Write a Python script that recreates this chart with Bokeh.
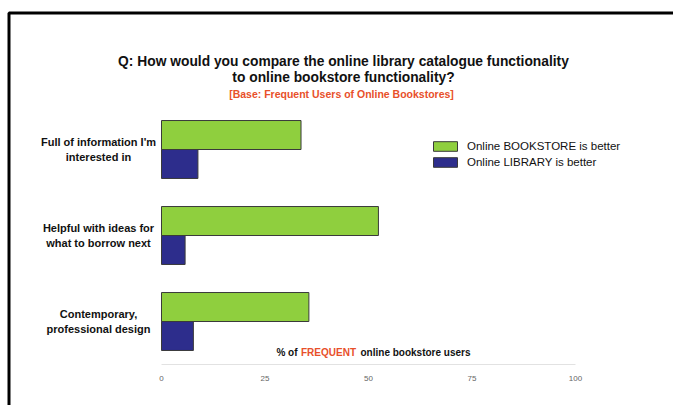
from bokeh.plotting import figure
from bokeh.models import ColumnDataSource, Label, Legend, LegendItem, BoxAnnotation, FixedTicker, Range1d
from bokeh.embed import file_html
from bokeh.resources import INLINE

categories = ["Full of information I'm\ninterested in",
              "Helpful with ideas for\nwhat to borrow next",
              "Contemporary,\nprofessional design"]
bookstore_better = [33.7, 52.4, 35.6]
library_better = [8.8, 5.7, 7.7]
series_names = ["Online BOOKSTORE is better", "Online LIBRARY is better"]
x_ticks = [0, 25, 50, 75, 100]

W, H = 673, 405
# layout: canvas px of value 0 / 100 on x, centre of first group and group pitch on y
X0, X100 = 161, 575
Y_FIRST, PITCH = 149, 86
n = len(categories)
pxu = (X100 - X0) / 100.0
ypos = [n - 1 - i + 0.5 for i in range(n)]          # group centres, top to bottom
y_top = ypos[0] + Y_FIRST / PITCH
y_bot = ypos[0] - (H - Y_FIRST) / PITCH

bh = 0.337
src = ColumnDataSource(dict(cat=categories,
                            y_book=[y + bh / 2 for y in ypos],
                            y_lib=[y - bh / 2 for y in ypos],
                            book=bookstore_better, lib=library_better))

p = figure(width=W, height=H, output_backend="svg", toolbar_location=None,
           x_range=Range1d(-X0 / pxu, (W - X0) / pxu),
           y_range=Range1d(y_bot, y_top), y_axis_location=None,
           min_border=0)
p.outline_line_color = None
p.xgrid.visible = False
p.ygrid.visible = False
p.background_fill_color = "white"
p.border_fill_color = "white"

r1 = p.hbar(y="y_book", left=0, right="book", height=bh, source=src,
            fill_color="#8FCF3E", line_color="#3a3a3a", line_width=1)
r2 = p.hbar(y="y_lib", left=0, right="lib", height=bh, source=src,
            fill_color="#2D2D8C", line_color="#3a3a3a", line_width=1)

ax = p.xaxis[0]
ax.fixed_location = 0
ax.bounds = (x_ticks[0], x_ticks[-1])
ax.ticker = FixedTicker(ticks=x_ticks)
ax.axis_line_color = "#e2e2e2"
ax.major_tick_line_color = None
ax.minor_tick_line_color = None
ax.major_label_text_color = "#666666"
ax.major_label_text_font = "Liberation Sans"
ax.major_label_text_font_size = "8px"
ax.major_label_standoff = 5

legend = Legend(items=[LegendItem(label=series_names[0], renderers=[r1]),
                       LegendItem(label=series_names[1], renderers=[r2])],
                location=(430, H - 168), orientation="vertical",
                glyph_width=30, glyph_height=12, label_height=12, label_width=10,
                label_standoff=7, spacing=4, padding=0, margin=0,
                border_line_color=None, background_fill_alpha=0,
                label_text_font="Liberation Sans", label_text_font_size="11.5px",
                label_text_color="#111111")
p.add_layout(legend, "center")

def lab(text, cx, cy, size, color="#111111", style="bold", align="center"):
    p.add_layout(Label(x=cx, y=H - cy, x_units="screen", y_units="screen",
                       text=text, text_align=align, text_baseline="middle",
                       text_font="Liberation Sans", text_font_style=style,
                       text_font_size=size, text_color=color, text_line_height=1.25))

lab("Q: How would you compare the online library catalogue functionality", 343, 61, "13.8px")
lab("to online bookstore functionality?", 343, 77, "13.8px")
lab("[Base: Frequent Users of Online Bookstores]", 341, 93, "10.5px", color="#E8502A")

# category labels
for c, y in zip(categories, ypos):
    p.add_layout(Label(x=98, y=y, x_units="screen", y_units="data",
                       text=c, text_align="center", text_baseline="middle",
                       text_font="Liberation Sans", text_font_style="bold",
                       text_font_size="11px", text_color="#111111", text_line_height=1.25))

# axis title
lab("% of", 297, 352, "10px", align="right")
lab("FREQUENT", 328, 352, "10px", color="#E8502A")
lab("online bookstore users", 360, 352, "10px", align="left")

# page frame (left and top rules)
p.add_layout(BoxAnnotation(left=8.5, right=900, top=12.5, bottom=900,
                           left_units="canvas", right_units="canvas",
                           top_units="canvas", bottom_units="canvas",
                           fill_alpha=0, line_color="black", line_width=3, line_alpha=1))

open("out.html", "w").write(file_html(p, INLINE))
